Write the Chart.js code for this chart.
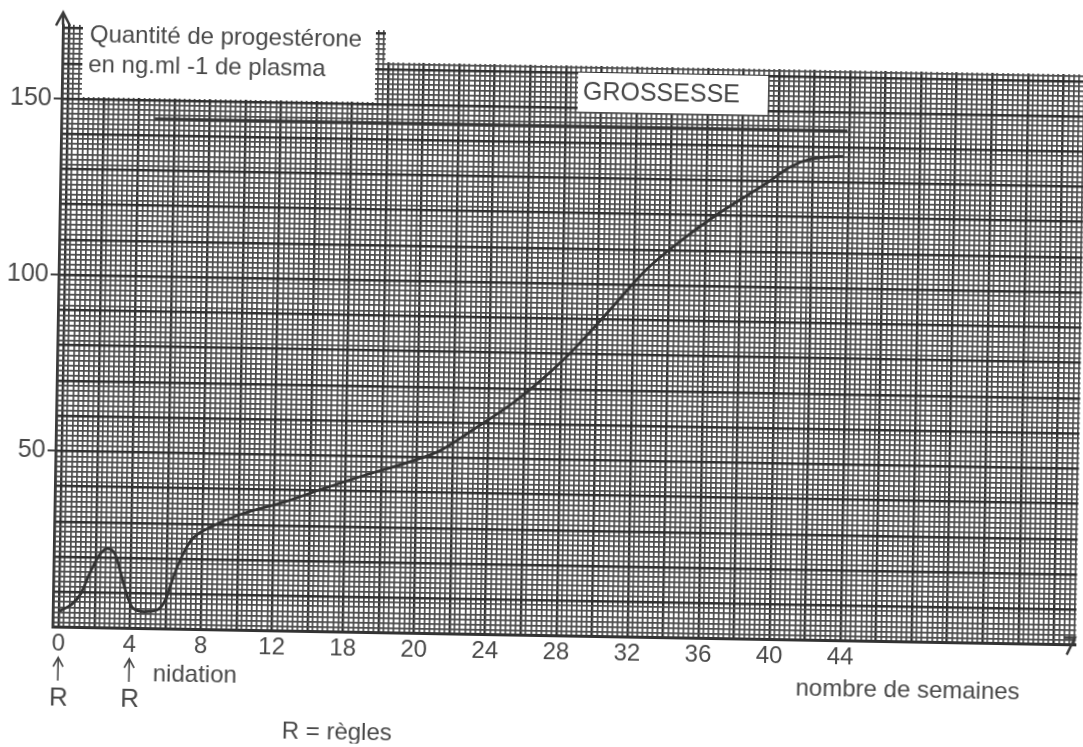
<!DOCTYPE html>
<html>
<head>
<meta charset="utf-8">
<script src="https://cdn.jsdelivr.net/npm/chart.js@4.4.1/dist/chart.umd.min.js"></script>
<style>
  html, body { margin: 0; padding: 0; background: #fff; overflow: hidden; }
  /* le document scanné est légèrement de travers */
  #progesterone { display: block; transform: rotate(1deg); transform-origin: 50% 50%; }
</style>
</head>
<body>
<canvas id="progesterone" width="1083" height="747"></canvas>
<script>
// semaines (position sur l'axe) et quantité de progestérone en ng/ml
const weeks = [0, 0.7, 1.2, 1.7, 2.2, 2.65, 3.1, 3.45, 3.8, 4.15, 4.8, 5.5, 6.0, 6.35, 6.8, 7.4, 8.6, 10.3, 12.5, 14.7, 17.0, 19.5, 21.3, 23.1, 25.55, 28.3, 30.85, 32.7, 34.7, 36.6, 39.4, 40.7, 41.9, 43.7];
const progesterone = [4.5, 6.5, 9.5, 15.5, 20.5, 22.5, 21, 15.5, 9.5, 5.8, 4.8, 5.3, 8.5, 14, 20, 25.5, 29.5, 33.2, 36.5, 40.5, 44.5, 48.5, 52, 58, 66.7, 79.2, 93.6, 104.3, 113, 120.2, 129.5, 134.2, 136.6, 137.5];

// trait "GROSSESSE"
const grossesseWeeks = [4.9, 43.9];
const grossesseLevel = [144.7, 144.7];

// graduations
const xTickValues = [0, 4, 8, 12, 16, 20, 24, 28, 32, 36, 40, 44];
const xTickLabels = ['0', '4', '8', '12', '18', '20', '24', '28', '32', '36', '40', '44'];
const yTickValues = [50, 100, 150];

const FONT = '"Liberation Sans", Arial, sans-serif';
Chart.defaults.font.family = FONT;
Chart.defaults.color = '#484848';

const isStep = (v, step) => Math.abs(v / step - Math.round(v / step)) < 0.01;

// lignes fines du papier millimétré
function paperTicks(step) {
    return (scale) => {
        const ticks = [];
        for (let i = Math.ceil(scale.min / step); i * step <= scale.max + 1e-9; i++) {
            ticks.push({ value: i * step });
        }
        scale.ticks = ticks;
    };
}

const paper = {
    id: 'paper',
    beforeDatasetsDraw(chart) {
        const { ctx, width } = chart;
        ctx.save();
        ctx.fillStyle = '#fff';
        ctx.fillRect(77, 0, 293, 105);        // cadre du titre de l'axe y
        ctx.fillRect(380, 0, width - 380, 65); // haut du papier
        ctx.fillRect(573, 72, 190, 39);        // cadre GROSSESSE
        ctx.restore();
    },
    afterDraw(chart) {
        const { ctx, scales: { x }, chartArea } = chart;
        ctx.save();
        ctx.fillStyle = '#484848';
        ctx.strokeStyle = '#484848';
        ctx.textAlign = 'left';
        ctx.textBaseline = 'alphabetic';

        ctx.font = '24px ' + FONT;
        ctx.fillText('Quantité de progestérone', 84, 50);
        ctx.fillText('en ng.ml -1 de plasma', 83, 80);
        ctx.font = '25px ' + FONT;
        ctx.fillText('GROSSESSE', 578, 99);

        ctx.font = '24px ' + FONT;
        ctx.fillText('nidation', 158, 688);
        ctx.fillText('nombre de semaines', 801, 691);
        ctx.fillText('R = règles', 288, 743);

        // flèches des règles
        ctx.lineWidth = 1.6;
        ctx.textAlign = 'center';
        ctx.font = '26px ' + FONT;
        [0, 4].forEach(w => {
            const px = x.getPixelForValue(w);
            ctx.beginPath();
            ctx.moveTo(px, 689);
            ctx.lineTo(px, 667);
            ctx.moveTo(px - 5, 675);
            ctx.lineTo(px, 666);
            ctx.lineTo(px + 5, 675);
            ctx.stroke();
            ctx.fillText('R', px + 1, 714);
        });

        // flèches des axes
        ctx.strokeStyle = '#3a3a3a';
        ctx.lineWidth = 2.5;
        ctx.beginPath();
        ctx.moveTo(chartArea.left, chartArea.top);
        ctx.lineTo(chartArea.left, 21);
        ctx.moveTo(chartArea.left - 7, 34);
        ctx.lineTo(chartArea.left, 21);
        ctx.lineTo(chartArea.left + 7, 34);
        ctx.stroke();
        ctx.beginPath();
        ctx.moveTo(chartArea.right - 12, chartArea.bottom - 7);
        ctx.lineTo(chartArea.right - 1, chartArea.bottom - 7);
        ctx.lineTo(chartArea.right - 9, chartArea.bottom + 10);
        ctx.stroke();
        ctx.restore();
    }
};

const minorColor = (major) => (c) =>
    c.tick && isStep(c.tick.value, major) ? '#303030' : '#4c4c4c';
const minorWidth = (major) => (c) =>
    c.tick && isStep(c.tick.value, major) ? 2.4 : 1.7;

new Chart(document.getElementById('progesterone'), {
    type: 'line',
    data: {
        datasets: [{
            label: 'progestérone',
            data: weeks.map((w, i) => ({ x: w, y: progesterone[i] })),
            borderColor: '#333',
            borderWidth: 2.8,
            pointRadius: 0,
            cubicInterpolationMode: 'monotone',
            fill: false
        }, {
            label: 'grossesse',
            data: grossesseWeeks.map((w, i) => ({ x: w, y: grossesseLevel[i] })),
            borderColor: '#353535',
            borderWidth: 3,
            pointRadius: 0,
            fill: false
        }]
    },
    options: {
        responsive: false,
        animation: false,
        layout: { padding: { top: 33, right: 2.5, left: 0, bottom: 0 } },
        plugins: { legend: { display: false }, tooltip: { enabled: false } },
        scales: {
            x: {
                type: 'linear',
                min: -0.35,
                max: 57.25,
                afterBuildTicks: (s) => { s.ticks = xTickValues.map(v => ({ value: v })); },
                afterFit: (s) => { s.height = 111.5; },
                ticks: {
                    autoSkip: false,
                    maxRotation: 0,
                    padding: -6,
                    font: { size: 24 },
                    callback: (v, i) => xTickLabels[i]
                },
                grid: { display: false },
                border: { display: true, color: '#333', width: 3 }
            },
            y: {
                type: 'linear',
                min: 0,
                max: 171,
                afterBuildTicks: (s) => { s.ticks = yTickValues.map(v => ({ value: v })); },
                afterFit: (s) => { s.width = 57; },
                ticks: { padding: 2, font: { size: 25 } },
                grid: { drawOnChartArea: false, drawTicks: true, tickLength: 8, color: '#444', lineWidth: 2 },
                border: { display: true, color: '#3a3a3a', width: 2.5 }
            },
            gx: {
                type: 'linear',
                position: 'bottom',
                min: -0.35,
                max: 57.25,
                afterBuildTicks: paperTicks(2 / 7),
                afterFit: (s) => { s.height = 0; },
                ticks: { display: false },
                grid: { drawTicks: false, color: minorColor(2), lineWidth: minorWidth(2) },
                border: { display: false }
            },
            gy: {
                type: 'linear',
                position: 'left',
                min: 0,
                max: 171,
                afterBuildTicks: paperTicks(10 / 7),
                afterFit: (s) => { s.width = 0; },
                ticks: { display: false },
                grid: { drawTicks: false, color: minorColor(10), lineWidth: minorWidth(10) },
                border: { display: false }
            }
        }
    },
    plugins: [paper]
});
</script>
</body>
</html>
